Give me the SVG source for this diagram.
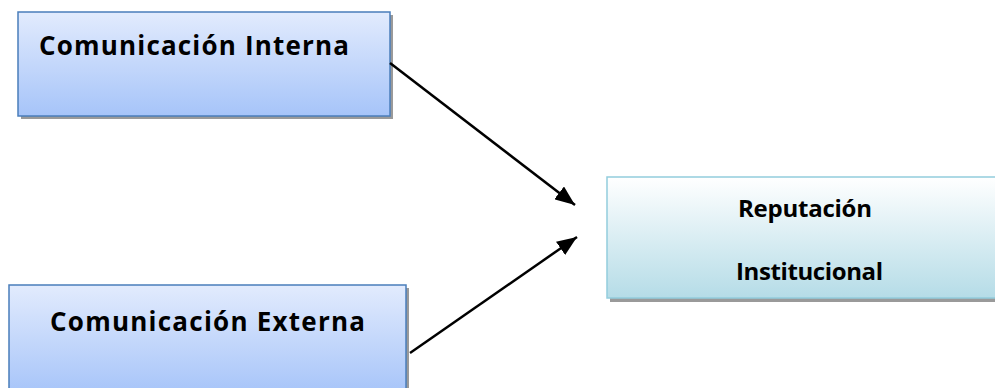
<svg xmlns="http://www.w3.org/2000/svg" width="995" height="388" viewBox="0 0 995 388">
<defs>
<linearGradient id="gBlue" x1="0" y1="0" x2="0" y2="1">
<stop offset="0" stop-color="#e2ebfd"/>
<stop offset="1" stop-color="#a6c4f9"/>
</linearGradient>
<linearGradient id="gCyan" x1="0" y1="0" x2="0" y2="1">
<stop offset="0" stop-color="#ffffff"/>
<stop offset="1" stop-color="#b5dce7"/>
</linearGradient>
<marker id="arr" viewBox="0 0 20 16" refX="20" refY="8" markerWidth="20" markerHeight="16" markerUnits="userSpaceOnUse" orient="auto">
<path d="M0,0 L20,8 L0,16 Z" fill="#000"/>
</marker>
</defs>
<style>
.shadow{fill:#9a9a9a}
.blue{fill:url(#gBlue);stroke:#4a7ebb;stroke-width:1.5}
.cyan{fill:url(#gCyan);stroke:#93cddd;stroke-width:1.5}
.lbl{font-family:"Open Sans","Liberation Sans",sans-serif;font-weight:bold;fill:#000}
.conn{stroke:#000;stroke-width:2.5;fill:none}
</style>
<rect width="995" height="388" fill="#fff"/>
<g id="node-interna">
<rect class="shadow" x="21" y="15" width="372" height="104"/>
<rect class="blue" x="18" y="12" width="372" height="104"/>
<text class="lbl" x="39" y="55" font-size="26" textLength="310" lengthAdjust="spacing">Comunicación Interna</text>
</g>
<g id="node-externa">
<rect class="shadow" x="12" y="288" width="397" height="110"/>
<rect class="blue" x="9" y="285" width="397" height="110"/>
<text class="lbl" x="50" y="331" font-size="26" textLength="315" lengthAdjust="spacing">Comunicación Externa</text>
</g>
<g id="node-reputacion">
<rect class="shadow" x="610" y="181" width="400" height="121"/>
<rect class="cyan" x="607" y="177" width="400" height="121"/>
<text class="lbl" x="738" y="217" font-size="24" textLength="134" lengthAdjust="spacing">Reputación</text>
<text class="lbl" x="736" y="280" font-size="24" textLength="147" lengthAdjust="spacing">Institucional</text>
</g>
<g id="connectors">
<line class="conn" x1="390" y1="63" x2="575" y2="205" marker-end="url(#arr)"/>
<line class="conn" x1="410" y1="353" x2="577" y2="237" marker-end="url(#arr)"/>
</g>
</svg>
